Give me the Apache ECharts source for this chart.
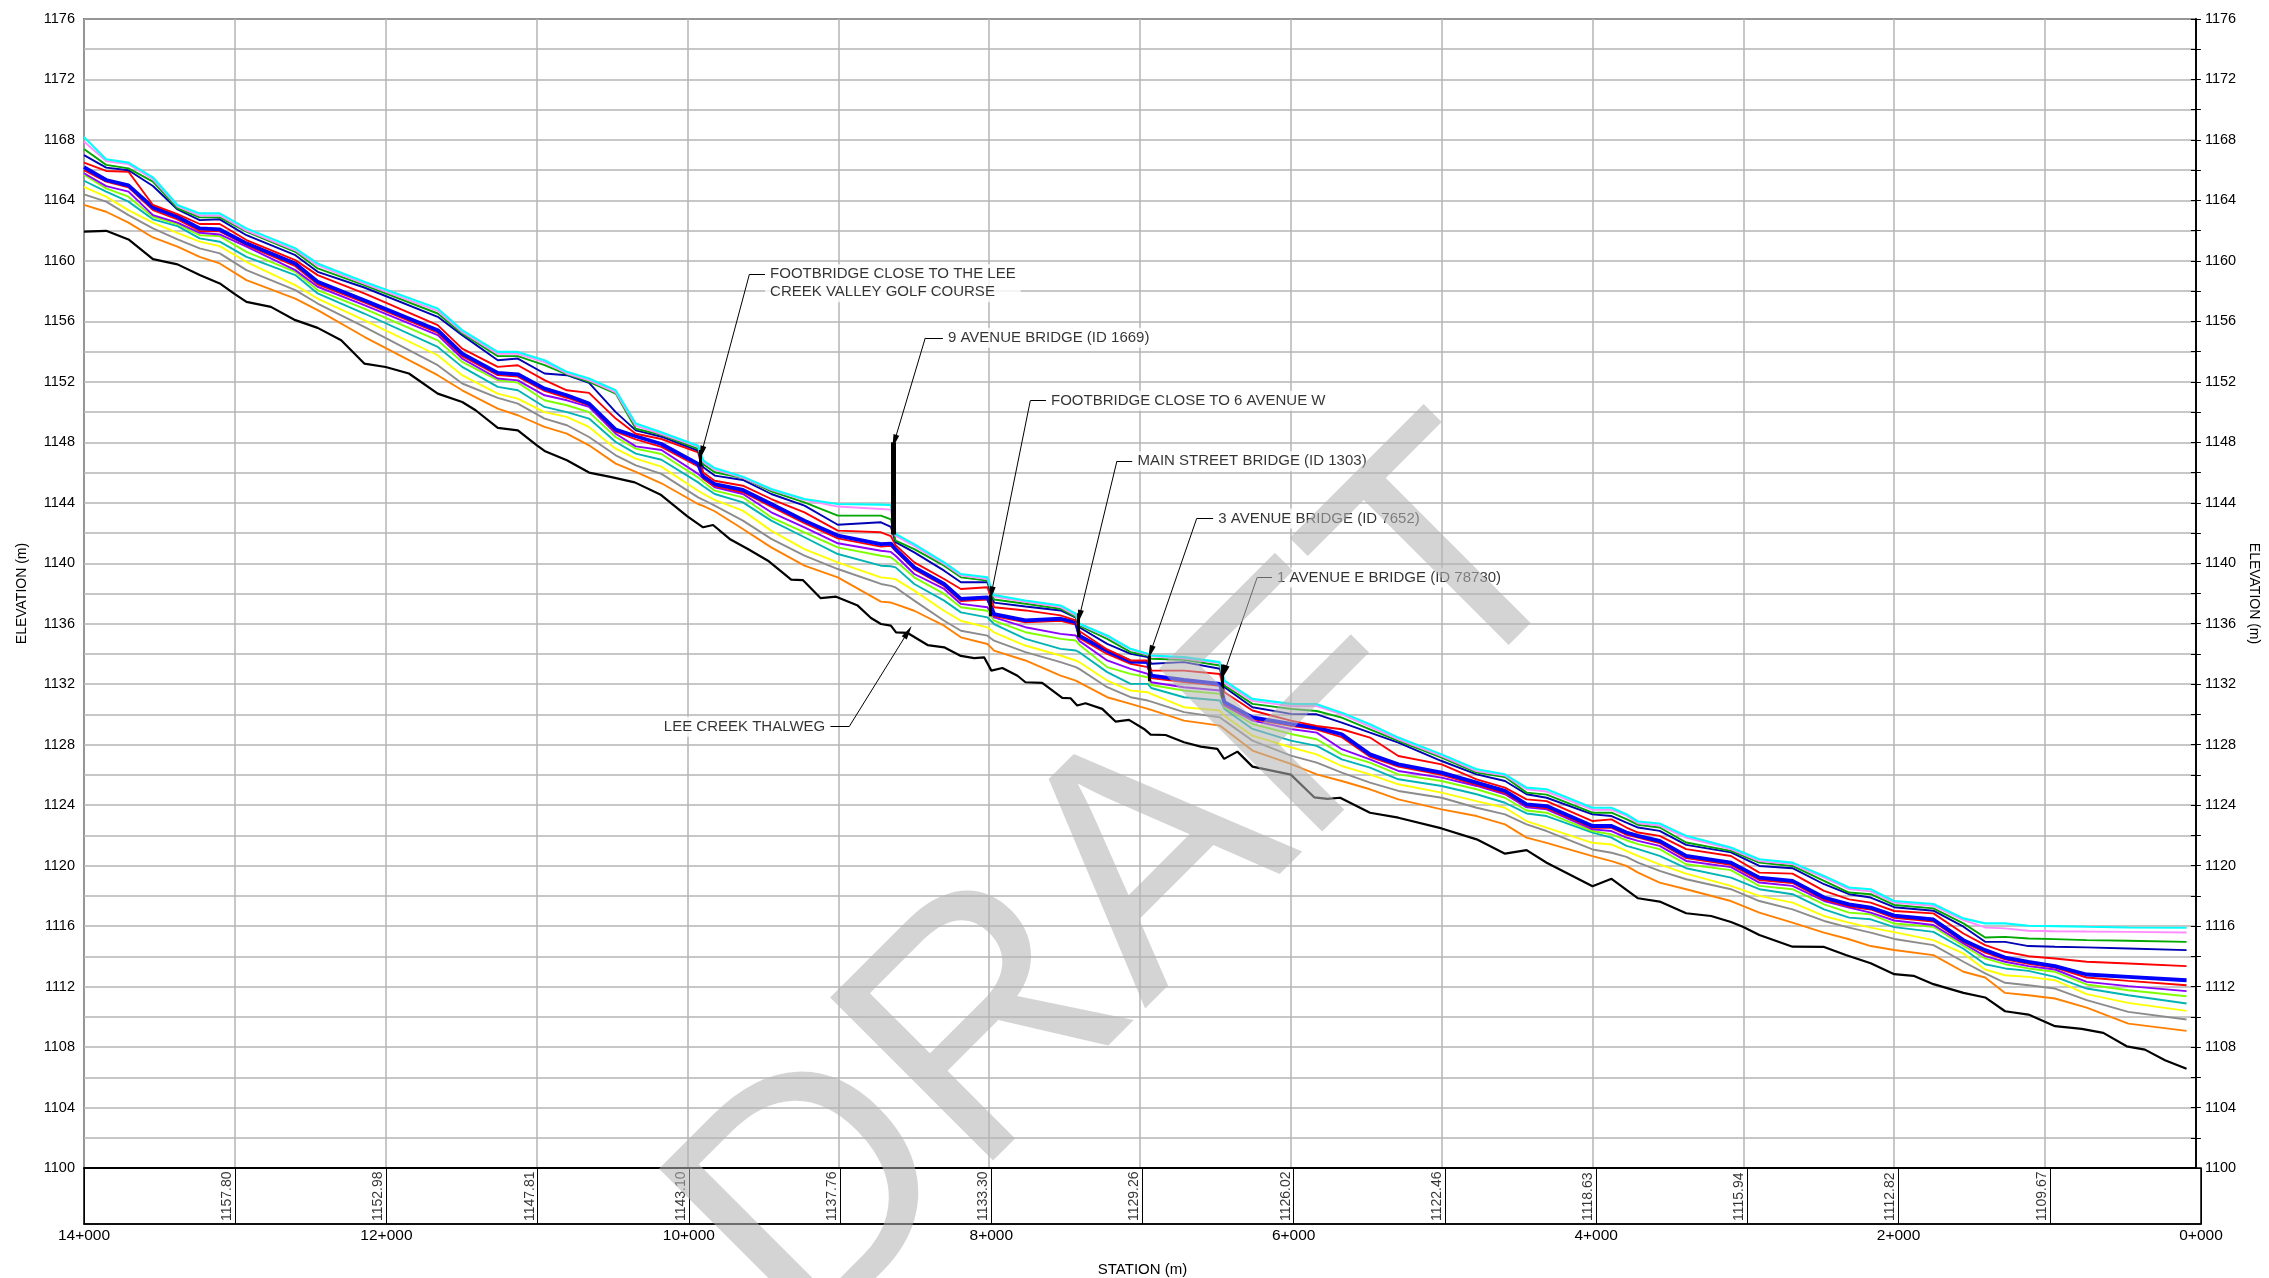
<!DOCTYPE html>
<html><head><meta charset="utf-8">
<script src="https://cdn.jsdelivr.net/npm/echarts@6/dist/echarts.min.js"></script>
<style>html,body{margin:0;padding:0;background:#fff;}#c{width:2269px;height:1278px;}</style>
</head><body><div id="c"></div>
<script>
// ---------------- DATA ----------------
const wsStation = [14000,13853,13705,13543,13380,13233,13100,12923,12599,12451,
 12142,11655,11493,11257,11124,10947,10799,10652,10475,10342,
 10172,9929,9895,9819,9632,9444,9224,9003,8717,8651,
 8620,8496,8298,8187,8011,7967,7759,7526,7425,7400,
 7217,7062,6948,6925,6708,6470,6440,6254,6000,5828,
 5662,5475,5287,5000,4768,4580,4437,4304,4000,3874,
 3775,3698,3555,3379,3082,2894,2674,2465,2299,2156,
 2000,1740,1541,1397,1265,1110,934,724,448,62];

const wsCyan = [1168.2,1166.72,1166.5,1165.53,1163.7,1163.14,1163.14,1162.15,1160.83,1159.83,
 1158.62,1156.85,1155.42,1153.98,1153.98,1153.43,1152.66,1152.22,1151.44,1149.24,
 1148.66,1147.78,1146.8,1146.3,1145.73,1144.91,1144.25,1143.92,1143.88,1143.85,
 1141.94,1141.27,1140.06,1139.29,1139.07,1137.9,1137.54,1137.21,1136.66,1136.0,
 1135.22,1134.34,1134.01,1133.9,1133.79,1133.46,1132.24,1131.03,1130.7,1130.68,
 1130.12,1129.35,1128.47,1127.36,1126.37,1126.04,1125.16,1125.05,1123.83,1123.83,
 1123.4,1122.92,1122.79,1121.97,1121.2,1120.42,1120.2,1119.32,1118.55,1118.44,
 1117.66,1117.46,1116.51,1116.18,1116.18,1116.02,1116.0,1115.96,1115.91,1115.89];

const wsPink = [1167.9,1166.6,1166.4,1165.4,1163.6,1163.0,1163.0,1162.0,1160.7,1159.7,
 1158.5,1156.7,1155.3,1153.85,1153.85,1153.3,1152.55,1152.1,1151.3,1149.1,
 1148.55,1147.7,1146.7,1146.2,1145.65,1144.85,1144.2,1143.75,1143.59,1143.55,
 1141.83,1141.15,1139.95,1139.2,1138.95,1137.8,1137.45,1137.1,1136.55,1135.95,
 1135.15,1134.3,1133.95,1133.85,1133.7,1133.4,1132.1,1130.9,1130.55,1130.55,
 1130.0,1129.2,1128.35,1127.25,1126.25,1125.95,1125.05,1124.9,1123.7,1123.7,
 1123.3,1122.8,1122.65,1121.85,1121.1,1120.3,1120.1,1119.2,1118.45,1118.3,
 1117.55,1117.35,1116.4,1115.91,1115.85,1115.69,1115.66,1115.64,1115.62,1115.58];

const wsGreen = [1167.4,1166.35,1166.12,1165.24,1163.47,1162.88,1162.88,1161.93,1160.6,1159.5,
 1158.4,1156.52,1155.2,1153.7,1153.7,1153.1,1152.5,1152.0,1151.22,1148.9,
 1148.49,1147.56,1146.55,1146.02,1145.64,1144.76,1144.03,1143.15,1143.15,1142.9,
 1141.5,1140.94,1139.84,1139.07,1138.85,1137.6,1137.32,1136.99,1136.44,1135.85,
 1135.0,1134.12,1133.9,1133.68,1133.61,1133.24,1131.91,1130.7,1130.37,1130.23,
 1129.79,1129.02,1128.25,1127.14,1126.15,1125.86,1124.83,1124.7,1123.5,1123.5,
 1123.07,1122.7,1122.52,1121.53,1120.98,1120.2,1119.98,1118.99,1118.22,1118.11,
 1117.4,1117.17,1116.18,1115.25,1115.29,1115.18,1115.14,1115.07,1115.03,1114.96];

const wsNavy = [1167.0,1166.17,1166.0,1164.95,1163.4,1162.7,1162.75,1161.7,1160.38,1159.28,
 1158.24,1156.3,1155.09,1153.43,1153.54,1152.55,1152.44,1151.93,1150.0,1148.79,
 1148.37,1147.45,1146.35,1145.8,1145.51,1144.58,1143.81,1142.55,1142.71,1142.4,
 1141.4,1140.72,1139.51,1138.74,1138.74,1137.4,1137.14,1136.88,1136.4,1135.75,
 1134.67,1134.01,1133.79,1133.35,1133.46,1133.02,1131.8,1130.48,1130.04,1130.01,
 1129.46,1128.8,1128.14,1126.92,1126.04,1125.6,1124.72,1124.49,1123.39,1123.28,
 1122.85,1122.52,1122.3,1121.37,1120.88,1119.98,1119.83,1118.77,1118.11,1117.89,
 1117.25,1117.02,1115.96,1114.96,1114.96,1114.68,1114.63,1114.59,1114.52,1114.41];

const wsRed = [1166.5,1165.95,1165.9,1163.7,1163.1,1162.44,1162.44,1161.38,1160.05,1159.06,
 1157.85,1155.75,1154.2,1152.99,1153.1,1152.11,1151.44,1151.27,1149.57,1148.57,
 1148.22,1147.34,1146.0,1145.46,1145.13,1144.25,1143.37,1142.16,1142.05,1141.8,
 1141.2,1140.06,1138.96,1138.3,1138.41,1137.09,1136.88,1136.55,1136.22,1135.5,
 1134.3,1133.57,1133.57,1132.9,1132.9,1132.68,1131.47,1130.26,1129.59,1129.24,
 1129.02,1128.47,1127.25,1126.7,1125.71,1125.16,1124.38,1124.27,1122.95,1123.06,
 1122.52,1122.19,1121.97,1121.09,1120.64,1119.54,1119.47,1118.33,1117.77,1117.55,
 1117.0,1116.84,1115.51,1114.74,1114.3,1114.01,1113.86,1113.64,1113.53,1113.35];

const wsBlue = [1166.2,1165.35,1165.0,1163.54,1162.92,1162.15,1162.08,1161.16,1159.83,1158.62,
 1157.4,1155.42,1153.87,1152.59,1152.5,1151.55,1151.11,1150.56,1148.84,1148.4,
 1147.89,1146.57,1145.75,1145.24,1144.85,1143.92,1142.82,1141.83,1141.27,1141.3,
 1140.94,1139.73,1138.63,1137.64,1137.75,1136.64,1136.22,1136.33,1136.11,1135.2,
 1134.2,1133.5,1133.46,1132.57,1132.29,1132.02,1130.81,1129.81,1129.37,1129.13,
 1128.69,1127.36,1126.7,1126.15,1125.49,1124.94,1124.05,1123.94,1122.62,1122.62,
 1122.19,1121.97,1121.64,1120.64,1120.2,1119.21,1118.99,1117.89,1117.44,1117.22,
 1116.7,1116.44,1115.07,1114.41,1113.92,1113.64,1113.35,1112.8,1112.64,1112.42];

const wsRed2 = [1166.0,1165.24,1164.87,1163.36,1162.75,1161.98,1161.95,1161.05,1159.65,1158.45,
 1157.25,1155.25,1153.7,1152.45,1152.35,1151.4,1150.95,1150.45,1148.7,1148.2,
 1147.7,1146.4,1145.6,1145.1,1144.7,1143.75,1142.65,1141.65,1141.1,1141.15,
 1140.8,1139.6,1138.5,1137.5,1137.6,1136.5,1136.1,1136.2,1135.95,1135.05,
 1134.0,1133.35,1133.13,1132.4,1132.15,1131.9,1130.7,1129.7,1129.25,1129.0,
 1128.5,1127.2,1126.55,1126.0,1125.35,1124.8,1123.95,1123.8,1122.5,1122.5,
 1122.05,1121.85,1121.5,1120.5,1120.05,1119.05,1118.85,1117.75,1117.3,1117.1,
 1116.55,1116.3,1114.95,1114.25,1113.8,1113.5,1113.26,1112.6,1112.38,1112.09];

const wsPurple = [1165.8,1164.95,1164.58,1163.03,1162.53,1161.86,1161.75,1160.94,1159.39,1158.29,
 1157.07,1155.09,1153.54,1152.22,1152.1,1151.11,1150.78,1150.34,1148.57,1147.73,
 1147.49,1145.91,1145.6,1145.02,1144.58,1143.37,1142.38,1141.32,1140.83,1140.75,
 1140.5,1139.29,1138.3,1137.31,1137.09,1136.42,1135.77,1135.33,1135.22,1134.85,
 1133.57,1133.02,1132.68,1132.13,1131.8,1131.58,1130.59,1129.59,1129.04,1128.8,
 1127.7,1127.03,1126.26,1125.82,1125.27,1124.72,1123.85,1123.72,1122.4,1122.29,
 1121.86,1121.64,1121.31,1120.31,1119.9,1118.88,1118.66,1117.66,1117.22,1116.89,
 1116.37,1116.07,1114.85,1114.01,1113.64,1113.35,1113.13,1112.31,1112.03,1111.7];

const wsLime = [1165.7,1164.8,1164.25,1162.92,1162.44,1161.7,1161.64,1160.6,1159.28,1158.07,
 1156.85,1154.75,1153.32,1152.11,1151.95,1150.78,1150.45,1150.0,1148.35,1147.58,
 1147.23,1145.68,1145.4,1144.8,1144.36,1143.04,1142.05,1141.05,1140.5,1140.4,
 1140.17,1139.07,1137.97,1137.09,1136.86,1136.2,1135.44,1135.0,1134.89,1134.6,
 1133.13,1132.68,1132.46,1131.95,1131.58,1131.36,1130.48,1129.37,1128.71,1128.36,
 1127.36,1126.81,1126.04,1125.6,1125.05,1124.49,1123.65,1123.5,1122.29,1122.07,
 1121.68,1121.42,1121.09,1120.09,1119.7,1118.66,1118.44,1117.44,1116.89,1116.78,
 1116.17,1115.96,1114.7,1113.86,1113.48,1113.2,1112.98,1112.14,1111.76,1111.36];

const wsTeal = [1165.3,1164.58,1163.92,1162.75,1162.3,1161.49,1161.27,1160.27,1159.06,1157.85,
 1156.52,1154.31,1152.99,1151.67,1151.44,1150.34,1150.0,1149.57,1148.02,1147.25,
 1146.85,1145.35,1145.1,1144.58,1144.03,1142.82,1141.72,1140.61,1139.84,1139.8,
 1139.73,1138.63,1137.53,1136.75,1136.42,1135.98,1135.0,1134.34,1134.23,1134.1,
 1132.8,1132.02,1132.02,1131.75,1131.14,1130.92,1130.37,1129.04,1128.27,1127.92,
 1127.03,1126.48,1125.71,1125.27,1124.72,1124.16,1123.45,1123.28,1122.18,1121.85,
 1121.31,1121.09,1120.64,1119.83,1119.21,1118.44,1118.11,1117.11,1116.56,1116.45,
 1115.93,1115.62,1114.5,1113.48,1113.2,1113.04,1112.64,1111.87,1111.43,1110.88];

const wsYellow = [1164.9,1164.25,1163.36,1162.53,1161.86,1161.27,1160.98,1159.94,1158.4,1157.51,
 1156.08,1153.76,1152.44,1151.22,1150.89,1150.0,1149.68,1149.02,1147.58,1146.92,
 1146.39,1144.8,1144.6,1144.19,1143.48,1142.16,1140.94,1140.06,1139.07,1139.0,
 1138.95,1138.19,1136.86,1136.2,1135.76,1135.43,1134.56,1133.9,1133.57,1133.45,
 1132.24,1131.58,1131.47,1131.36,1130.48,1130.26,1129.92,1128.6,1127.83,1127.36,
 1126.59,1126.04,1125.38,1124.83,1124.27,1123.83,1122.95,1122.51,1121.51,1121.4,
 1120.98,1120.64,1120.09,1119.47,1118.66,1118.0,1117.55,1116.67,1116.23,1115.9,
 1115.6,1115.07,1114.19,1113.13,1112.75,1112.64,1112.42,1111.5,1110.92,1110.39];

const wsGray = [1164.4,1163.92,1163.03,1162.15,1161.42,1160.83,1160.5,1159.39,1158.07,1157.18,
 1155.64,1153.1,1151.89,1150.94,1150.56,1149.57,1149.13,1148.35,1147.14,1146.48,
 1145.91,1144.36,1144.2,1143.81,1142.82,1141.61,1140.5,1139.62,1138.63,1138.5,
 1138.4,1137.53,1136.2,1135.54,1135.21,1134.88,1134.12,1133.46,1133.13,1133.0,
 1131.8,1131.14,1130.92,1130.85,1130.15,1129.81,1129.59,1128.27,1127.28,1126.81,
 1126.15,1125.49,1124.94,1124.49,1123.83,1123.39,1122.73,1122.29,1121.07,1120.85,
 1120.58,1120.2,1119.65,1119.1,1118.44,1117.66,1117.11,1116.34,1115.9,1115.57,
 1115.15,1114.74,1113.64,1112.87,1112.25,1112.09,1111.87,1111.1,1110.33,1109.82];

const wsOrange = [1163.7,1163.25,1162.53,1161.55,1160.94,1160.27,1159.83,1158.73,1157.51,1156.74,
 1154.98,1152.44,1151.44,1150.23,1149.79,1149.02,1148.57,1147.8,1146.59,1146.04,
 1145.29,1143.92,1143.8,1143.44,1142.27,1141.05,1139.84,1139.07,1137.46,1137.4,
 1137.3,1136.86,1135.87,1135.1,1134.66,1134.22,1133.57,1132.57,1132.24,1132.1,
 1131.14,1130.7,1130.37,1130.3,1129.59,1129.26,1129.04,1127.61,1126.73,1126.04,
 1125.6,1125.05,1124.38,1123.72,1123.28,1122.73,1121.85,1121.51,1120.63,1120.3,
 1119.98,1119.54,1118.88,1118.44,1117.66,1116.89,1116.23,1115.57,1115.13,1114.68,
 1114.42,1114.08,1112.98,1112.6,1111.58,1111.43,1111.21,1110.61,1109.55,1109.07];

const thalwegStation = [14000,13853,13705,13543,13380,13233,13100,13000,12923,12761,
 12599,12451,12295,12142,12000,11846,11655,11493,11404,11257,
 11124,11000,10947,10799,10652,10503,10349,10180,10000,9896,
 9830,9720,9599,9466,9312,9235,9118,9014,8871,8783,
 8717,8651,8617,8540,8408,8298,8187,8099,8033,7985,
 7912,7812,7759,7648,7515,7460,7416,7361,7250,7162,
 7073,6973,6929,6830,6708,6597,6487,6442,6354,6254,
 6000,5845,5757,5673,5475,5287,5000,4768,4580,4437,
 4304,4000,3874,3775,3698,3555,3379,3214,3082,3000,
 2894,2674,2465,2321,2156,2000,1872,1740,1541,1397,
 1265,1110,934,757,614,459,338,205,62];
const thalwegElev = [1161.93,1161.99,1161.42,1160.12,1159.77,1159.06,1158.51,1157.80,1157.29,1156.96,
 1156.08,1155.57,1154.75,1153.21,1152.98,1152.55,1151.22,1150.67,1150.12,1148.95,
 1148.79,1147.81,1147.43,1146.81,1146.0,1145.7,1145.35,1144.55,1143.10,1142.38,
 1142.53,1141.61,1140.94,1140.17,1138.92,1138.89,1137.70,1137.79,1137.20,1136.38,
 1135.98,1135.87,1135.43,1135.39,1134.59,1134.44,1133.87,1133.73,1133.78,1132.90,
 1133.07,1132.56,1132.13,1132.09,1131.09,1131.07,1130.59,1130.74,1130.37,1129.53,
 1129.64,1129.04,1128.67,1128.64,1128.16,1127.87,1127.72,1127.06,1127.54,1126.55,
 1126.02,1124.52,1124.41,1124.49,1123.50,1123.17,1122.46,1121.74,1120.79,1121.03,
 1120.19,1118.63,1119.13,1118.40,1117.84,1117.62,1116.85,1116.67,1116.27,1115.94,
 1115.41,1114.64,1114.62,1114.09,1113.54,1112.82,1112.71,1112.16,1111.58,1111.28,
 1110.37,1110.15,1109.38,1109.20,1108.94,1108.05,1107.83,1107.13,1106.57];

// thalweg elevation printed at each kilometre
const kmStation = [13000,12000,11000,10000,9000,8000,7000,6000,5000,4000,3000,2000,1000];
const kmLabel = ['1157.80','1152.98','1147.81','1143.10','1137.76','1133.30','1129.26','1126.02','1122.46','1118.63','1115.94','1112.82','1109.67'];

// bridge structures (vertical bars)
const bridgeStation = [9913, 8635, 7992, 7406, 6939, 6455];
const bridgeTop     = [1147.5, 1148.0, 1137.9, 1136.7, 1133.9, 1133.3];
const bridgeBottom  = [1146.4, 1141.9, 1136.5, 1135.1, 1132.2, 1131.1];
const bridgeWidth   = [3, 5, 3, 3, 3, 3];

// annotations
const annoText = ['FOOTBRIDGE CLOSE TO THE LEE\nCREEK VALLEY GOLF COURSE','9 AVENUE BRIDGE (ID 1669)','FOOTBRIDGE CLOSE TO 6 AVENUE W','MAIN STREET BRIDGE (ID 1303)','3 AVENUE BRIDGE (ID 7652)','1 AVENUE E BRIDGE (ID 78730)','LEE CREEK THALWEG'];
const annoSide = ['right','right','right','right','right','right','left'];
const annoAnchorSt = [9485, 8306, 7623, 7050, 6514, 6124, 9053];
const annoAnchorEl = [1159.12, 1154.91, 1150.75, 1146.75, 1142.96, 1139.06, 1129.19];
const annoElbowSt  = [9589, 8423, 7727, 7153, 6624, 6223, 8928];
const annoTipSt    = [9906, 8628, 7985, 7402, 6930, 6440, 8538];
const annoTipEl    = [1147.3, 1148.05, 1138.0, 1136.45, 1134.1, 1132.8, 1135.46];

// ---------------- CHART ----------------
const chart = echarts.init(document.getElementById('c'), null, {renderer: 'canvas'});
const SANS = "'Liberation Sans',Arial,sans-serif";

function pairs(xs, ys) { const n = Math.min(xs.length, ys.length); const a = []; for (let i = 0; i < n; i++) a.push([xs[i], ys[i]]); return a; }

const wsDefs = [
  {name: 'orange', data: wsOrange, color: '#ff8000', w: 1.9},
  {name: 'gray', data: wsGray, color: '#8c8c8c', w: 1.9},
  {name: 'yellow', data: wsYellow, color: '#ffff00', w: 1.9},
  {name: 'teal', data: wsTeal, color: '#00b4b4', w: 1.9},
  {name: 'lime', data: wsLime, color: '#80ff00', w: 1.9},
  {name: 'purple', data: wsPurple, color: '#8c00ff', w: 1.9},
  {name: 'red2', data: wsRed2, color: '#ff0000', w: 1.9},
  {name: 'blue', data: wsBlue, color: '#0000ff', w: 3.8},
  {name: 'red', data: wsRed, color: '#ff0000', w: 1.9},
  {name: 'navy', data: wsNavy, color: '#0000b4', w: 1.9},
  {name: 'green', data: wsGreen, color: '#00a800', w: 1.9},
  {name: 'pink', data: wsPink, color: '#ff8cff', w: 1.9},
  {name: 'cyan', data: wsCyan, color: '#00ffff', w: 2.1}
];

const series = [];
wsDefs.forEach(d => series.push({
  type: 'line', name: d.name, xAxisIndex: 0, yAxisIndex: 0,
  data: pairs(wsStation, d.data), symbol: 'none', silent: true,
  lineStyle: {color: d.color, width: d.w}, z: 3
}));
series.push({
  type: 'line', name: 'thalweg', xAxisIndex: 0, yAxisIndex: 0,
  data: pairs(thalwegStation, thalwegElev), symbol: 'none', silent: true,
  lineStyle: {color: '#000', width: 2.2}, z: 3
});
// bridges
series.push({
  type: 'lines', coordinateSystem: 'cartesian2d', xAxisIndex: 0, yAxisIndex: 0, silent: true, z: 4,
  data: bridgeStation.map((s, i) => ({coords: [[s, bridgeTop[i]], [s, bridgeBottom[i]]], lineStyle: {width: bridgeWidth[i]}})),
  lineStyle: {color: '#000', width: 3, opacity: 1}
});
// leader stubs
series.push({
  type: 'lines', coordinateSystem: 'cartesian2d', xAxisIndex: 0, yAxisIndex: 0, silent: true, z: 5,
  data: annoAnchorSt.map((s, i) => ({coords: [[s, annoAnchorEl[i]], [annoElbowSt[i], annoAnchorEl[i]]]})),
  lineStyle: {color: '#000', width: 1, opacity: 1}
});
// leader arrows
const ARROW = 'path://M0,0L3,14L-3,14Z M-7,14L-6.99,14L-7,13.99Z M7,0L6.99,0L7,0.01Z';
series.push({
  type: 'lines', coordinateSystem: 'cartesian2d', xAxisIndex: 0, yAxisIndex: 0, silent: true, z: 5,
  symbol: ['none', ARROW], symbolSize: [1, 14],
  data: annoElbowSt.map((s, i) => ({coords: [[s, annoAnchorEl[i]], [annoTipSt[i], annoTipEl[i]]]})),
  lineStyle: {color: '#000', width: 1, opacity: 1}
});
// annotation texts
series.push({
  type: 'scatter', xAxisIndex: 0, yAxisIndex: 0, symbolSize: 0, silent: true, z: 6,
  data: annoText.map((t, i) => ({
    value: [annoAnchorSt[i], annoAnchorEl[i]],
    label: {
      show: true, formatter: t,
      position: [0, -10],
      align: annoSide[i] === 'right' ? 'left' : 'right',
      verticalAlign: 'top'
    }
  })),
  label: {color: '#000', fontSize: 15, fontFamily: SANS, lineHeight: 18,
          backgroundColor: '#fff', padding: [1, 5, 1, 5]}
});
// km thalweg labels in the band
series.push({
  type: 'scatter', xAxisIndex: 1, yAxisIndex: 2, symbolSize: 0, silent: true, z: 6,
  data: kmStation.map((s, i) => ({value: [s, 0], name: kmLabel[i]})),
  label: {show: true, formatter: p => p.name, position: [-8, -3], rotate: 90,
          align: 'left', verticalAlign: 'middle', color: '#000', fontSize: 14, fontFamily: SANS}
});

const gridLine = {show: true, lineStyle: {color: '#b4b4b4', width: 1.5}};

const option = {
  animation: false,
  backgroundColor: '#fff',
  grid: [
    {left: 84, right: 68, top: 19, height: 1149, show: true, borderColor: '#000', borderWidth: 1.5},
    {left: 84, right: 68, top: 1168, height: 56, show: true, borderColor: '#000', borderWidth: 1.5}
  ],
  xAxis: [
    {gridIndex: 0, type: 'value', min: 0, max: 14000, interval: 1000, inverse: true,
     axisLine: {show: true, lineStyle: {color: '#000', width: 2}}, axisTick: {show: false},
     axisLabel: {show: false}, splitLine: gridLine},
    {gridIndex: 1, type: 'value', min: 0, max: 14000, interval: 1000, inverse: true,
     axisLine: {show: true, lineStyle: {color: '#000', width: 1.5}}, axisTick: {show: false},
     splitLine: {show: true, lineStyle: {color: '#000', width: 1}},
     axisLabel: {show: true, margin: 4, color: '#000', fontSize: 15.5, fontFamily: SANS,
                 showMinLabel: true, showMaxLabel: true,
                 formatter: v => (v % 2000 === 0 ? (v / 1000) + '+000' : '')},
     name: 'STATION (m)', nameLocation: 'middle', nameGap: 38,
     nameTextStyle: {color: '#000', fontSize: 15, fontFamily: SANS}}
  ],
  yAxis: [
    {gridIndex: 0, type: 'value', position: 'left', min: 1100, max: 1176, interval: 2,
     axisLine: {show: true, lineStyle: {color: '#000', width: 1.5}},
     axisTick: {show: true, length: 5, interval: (i, v) => Number(v) % 4 === 0, lineStyle: {color: '#000'}},
     axisLabel: {show: true, margin: 9, color: '#000', fontSize: 14.5, fontFamily: SANS,
                 formatter: v => (v % 4 === 0 ? String(v) : '')},
     splitLine: gridLine,
     name: 'ELEVATION (m)', nameLocation: 'middle', nameGap: 55, nameRotate: 90,
     nameTextStyle: {color: '#000', fontSize: 14, fontFamily: SANS}},
    {gridIndex: 0, type: 'value', position: 'right', min: 1100, max: 1176, interval: 2,
     axisLine: {show: true, lineStyle: {color: '#000', width: 1.5}},
     axisTick: {show: true, length: 5, interval: (i, v) => Number(v) % 4 === 0, lineStyle: {color: '#000'}},
     axisLabel: {show: true, margin: 9, color: '#000', fontSize: 14.5, fontFamily: SANS,
                 formatter: v => (v % 4 === 0 ? String(v) : '')},
     splitLine: {show: false},
     name: 'ELEVATION (m)', nameLocation: 'middle', nameGap: 45, nameRotate: -90,
     nameTextStyle: {color: '#000', fontSize: 14, fontFamily: SANS}},
    {gridIndex: 1, type: 'value', min: 0, max: 1, show: false}
  ],
  graphic: [{
    type: 'text', x: 1132, y: 891, rotation: 45 * Math.PI / 180, z: 100, silent: true,
    style: {text: 'DRAFT', fontSize: 335, fontFamily: SANS, fill: 'rgba(180,180,180,0.57)',
            textAlign: 'center', textVerticalAlign: 'middle'}
  }],
  series: series
};
chart.setOption(option);
</script>
</body></html>
